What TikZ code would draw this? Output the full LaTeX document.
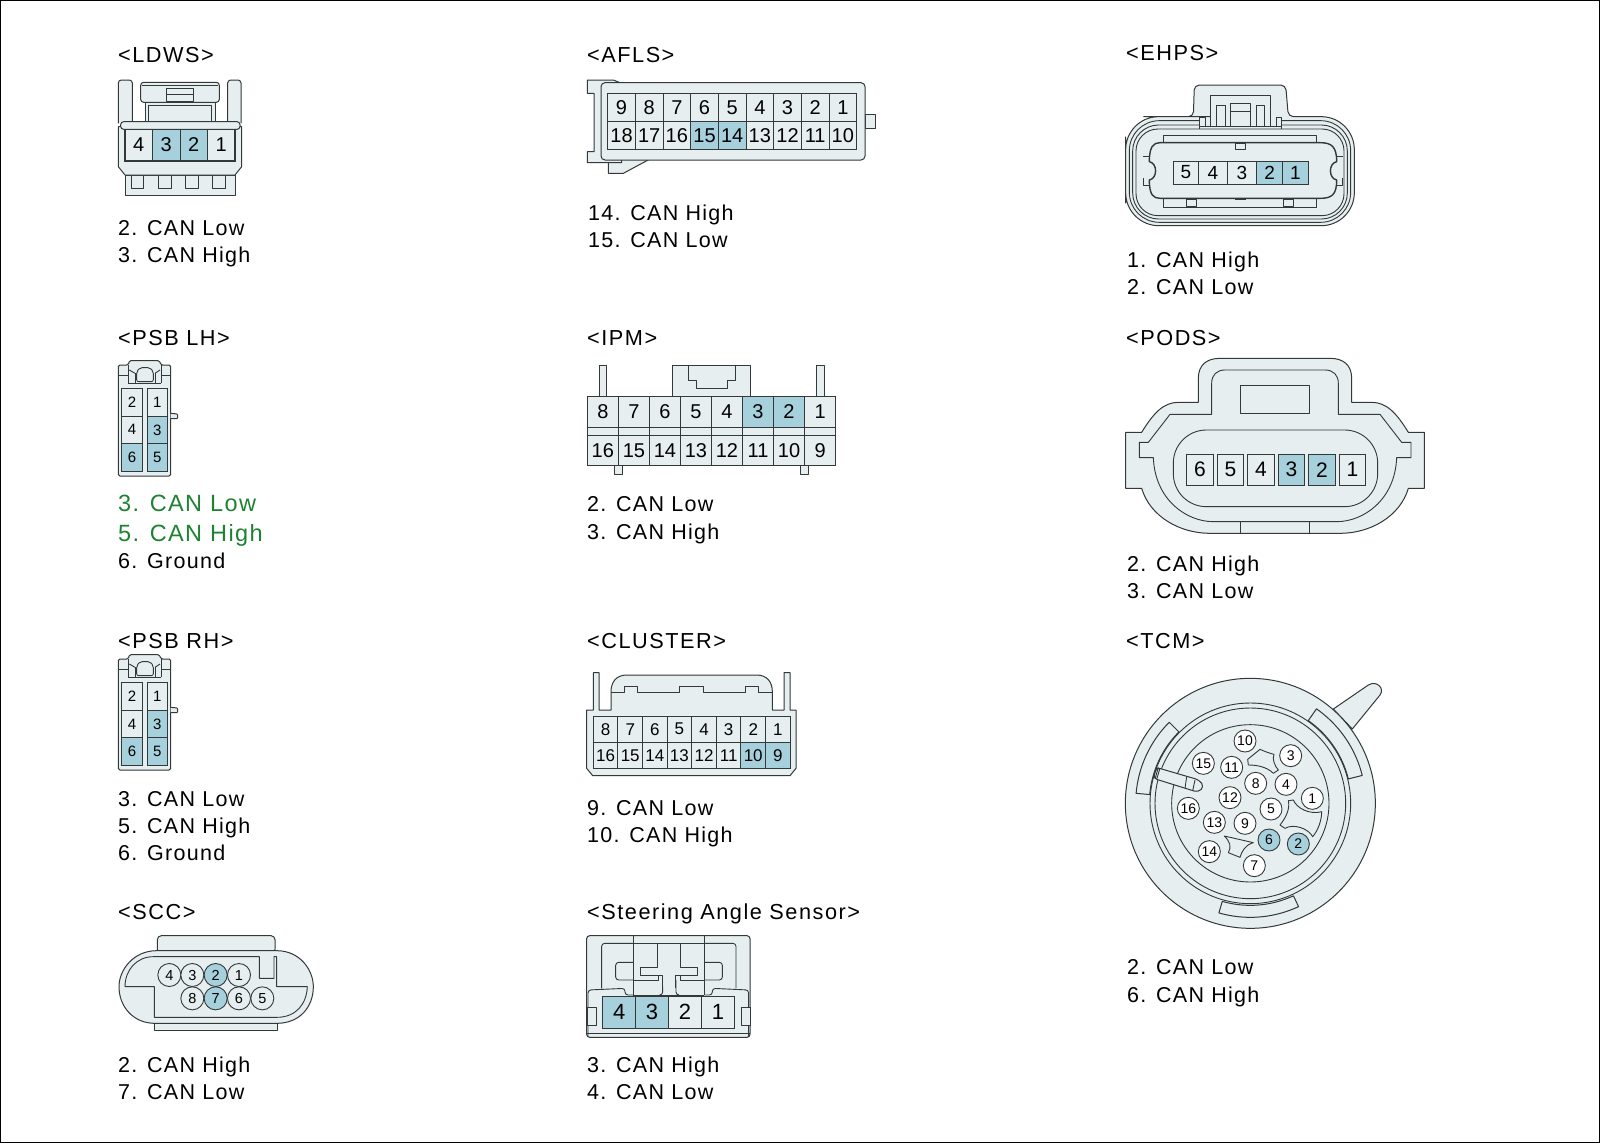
\documentclass[tikz,border=0pt]{standalone}
\usepackage{fontspec}
\setmainfont{Liberation Sans}
\newfontfamily\lblfont[LetterSpace=6]{Liberation Sans}
\newfontfamily\ttlfont[LetterSpace=7]{Liberation Sans}
\usetikzlibrary{positioning}
\definecolor{bodycol}{HTML}{E6EEEF}
\definecolor{hlcol}{HTML}{A6D0DC}
\definecolor{linecol}{HTML}{333839}
\definecolor{greencol}{HTML}{1E8232}
\tikzset{
  conn/.style={draw=linecol, fill=bodycol, line width=1pt, line join=round},
  wire/.style={draw=linecol, line width=.9pt, line join=round},
  pl/.style={fill=bodycol},
  hl/.style={fill=hlcol},
  pincell/.style={draw=linecol, line width=.9pt, inner sep=0pt, outer sep=0pt},
  pinround/.style={circle, draw=linecol, line width=.9pt, inner sep=0pt, outer sep=0pt},
  title/.style={anchor=base west, inner sep=0pt, font=\fontsize{21.7}{24}\ttlfont},
  lbl/.style={anchor=base west, inner sep=0pt, yshift=-.7pt, font=\fontsize{21.5}{24}\lblfont},
  lblgreen/.style={anchor=base west, inner sep=0pt, yshift=-.7pt, text=greencol, font=\fontsize{23.5}{26}\lblfont}
}
% name, left, top, pitch, width, height, font size, cells
\newcommand{\cellrow}[8]{
  \foreach \lab/\look [count=\k from 0] in {#8}{
    \node (#1\lab) [pincell, \look, minimum width=#5/3*1pt, minimum height=#6/3*1pt,
      font=\fontsize{#7}{#7}\selectfont] at ({#2+\k*#4+#5/2},{#3+#6/2}) {\lab};
  }
}
\newcommand{\slot}[4]{
  \draw[conn] plot[domain=#3:#4, samples=24] ({391+#2*cos(\x)},{430-#2*sin(\x)})
    -- plot[domain=#4:#3, samples=24] ({391+#1*cos(\x)},{430-#1*sin(\x)}) -- cycle;
}
\newcommand{\psbconn}[2]{
  \begin{scope}[shift={(100,#2)}, scale=1/3]
    \draw[conn, rounded corners=1.5pt] (55,468) -- (55,135) -- (85,135) -- (88,122) -- (178,122) -- (183,135) -- (212,135) -- (212,468) -- cycle;
    \draw[conn, rounded corners=1pt] (212,280) -- (233,282) -- (233,296) -- (212,296);
    \draw[wire] (55,165) -- (85,165) (183,165) -- (212,165) (85,190) -- (183,190);
    \draw[wire] (85,135) -- (85,190) (183,135) -- (183,190) (105,160) -- (105,190) (165,160) -- (165,190);
    \draw[wire] (105,160) -- (88,150) (165,160) -- (180,150);
    \draw[wire, rounded corners=2pt] (110,185) -- (110,155) -- (120,143) -- (150,143) -- (160,155) -- (160,185) -- cycle;
    \draw[wire] (127,205) -- (127,455) (141,205) -- (141,455);
    \cellrow{#1l}{65}{205}{0}{62}{83}{15}{2/pl}
    \cellrow{#1l}{65}{288}{0}{62}{83}{15}{4/pl}
    \cellrow{#1l}{65}{371}{0}{62}{84}{15}{6/hl}
    \cellrow{#1r}{141}{205}{0}{62}{83}{15}{1/pl}
    \cellrow{#1r}{141}{288}{0}{62}{83}{15}{3/hl}
    \cellrow{#1r}{141}{371}{0}{62}{84}{15}{5/hl}
  \end{scope}
}
\begin{document}
\begin{tikzpicture}[x=1pt, y=-1pt]
\useasboundingbox (0,0) rectangle (1600,1143);
\draw[black, line width=1pt] (0.5,0.5) rectangle (1599.5,1142.5);

\node (ldwsT) [title] at (118,62) {<LDWS>};
\node (ldwsA) [lbl] at (118,234.5) {2. CAN Low};
\node (ldwsB) [lbl] at (118,262) {3. CAN High};
\begin{scope}[shift={(90,30)}, scale=1/3]
  \draw[conn, rounded corners=3pt] (85,280) -- (85,150) -- (127,150) -- (127,280);
  \draw[conn, rounded corners=3pt] (413,280) -- (413,150) -- (453,150) -- (453,280);
  \draw[conn] (165,217) rectangle (375,280);
  \draw[conn] (175,227) rectangle (365,278);
  \draw[conn, rounded corners=3pt] (152,217) -- (152,157) -- (388,157) -- (388,217) -- cycle;
  \draw[wire] (155,167) -- (385,167);
  \draw[wire] (230,175) rectangle (310,215) (230,193) -- (310,193);
  \draw[conn] (105,435) rectangle (435,495);
  \draw[wire] (125,435) |- (160,475) -- (160,435) (205,435) |- (243,475) -- (243,435);
  \draw[wire] (287,435) |- (325,475) -- (325,435) (368,435) |- (406,475) -- (406,435);
  \draw[conn] (85,290) -- (85,410) -- (105,435) -- (435,435) -- (455,410) -- (455,290) -- cycle;
  \draw[conn, rounded corners=3pt] (92,275) rectangle (450,298);
  \cellrow{ldws}{105}{298}{82.5}{82.5}{92}{20}{4/pl,3/hl,2/hl,1/pl}
  \draw[linecol, line width=1.6pt] (105,298) -- (105,393) -- (435,393) -- (435,298);
\end{scope}

\node (aflsT) [title] at (587,62) {<AFLS>};
\node (aflsA) [lbl] at (588,219.5) {14. CAN High};
\node (aflsB) [lbl] at (588,246.5) {15. CAN Low};
\begin{scope}[shift={(570,30)}, scale=1/3]
  \draw[conn] (115,385) -- (115,430) -- (160,430) -- (238,388) -- cycle;
  \draw[conn] (52,398) -- (52,365) -- (72,365) -- (72,190) -- (52,190) -- (52,150) -- (130,150) -- (155,160) -- (155,398) -- cycle;
  \draw[conn] (885,253) -- (917,253) -- (917,295) -- (885,295) -- cycle;
  \draw[conn, rounded corners=4pt] (93,390) -- (93,158) -- (885,158) -- (885,390) -- cycle;
  \cellrow{afls}{113}{190}{83}{83}{85}{20}{9/pl,8/pl,7/pl,6/pl,5/pl,4/pl,3/pl,2/pl,1/pl}
  \cellrow{afls}{113}{275}{83}{83}{83}{20}{18/pl,17/pl,16/pl,15/hl,14/hl,13/pl,12/pl,11/pl,10/pl}
\end{scope}

\node (ehpsT) [title] at (1126,60) {<EHPS>};
\node (ehpsA) [lbl] at (1127,266.5) {1. CAN High};
\node (ehpsB) [lbl] at (1127,294) {2. CAN Low};
\begin{scope}[shift={(1110,30)}, scale=1/3]
  \draw[conn] (47,420) [rounded corners=33pt] -- (47,260) -- (200,260) [rounded corners=5pt] -- (250,260) -- (253,165) -- (527,165) -- (535,260) -- (580,260) [rounded corners=33pt] -- (733,260) -- (733,587) -- (47,587) -- cycle;
  \draw[wire, rounded corners=30pt] (268,272) -| (58,577) -| (722,272) -- (515,272);
  \draw[wire, rounded corners=26pt] (268,285) -| (68,567) -| (712,285) -- (515,285);
  \draw[wire, rounded corners=22pt] (78,297) rectangle (702,557);
  \draw[wire] (268,297) -- (268,262) -- (285,262) -- (285,290) (500,290) -- (500,262) -- (515,262) -- (515,297);
  \draw[wire] (300,290) -- (300,197) -- (480,197) -- (480,290) (268,290) -- (515,290);
  \draw[wire] (320,290) -- (320,225) -- (345,225) -- (345,290) (440,290) -- (440,225) -- (462,225) -- (462,290);
  \draw[wire] (362,290) -- (362,220) -- (420,220) -- (420,290) (362,245) -- (420,245);
  \draw[conn] (160,315) rectangle (620,533);
  \draw[conn, line width=1.4pt] (150,338) -- (630,338) .. controls (665,338) and (680,350) .. (680,395) .. controls (655,400) and (655,445) .. (680,450) .. controls (680,495) and (665,505) .. (630,505) -- (150,505) .. controls (130,505) and (118,495) .. (118,450) .. controls (143,445) and (143,400) .. (118,395) .. controls (118,350) and (130,338) .. (150,338) -- cycle;
  \draw[wire] (100,380) -- (118,380) (100,445) -- (100,465) -- (118,465) (680,380) -- (698,380) (698,445) -- (698,465) -- (680,465);
  \draw[wire] (375,340) rectangle (405,357);
  \draw[wire] (230,507) rectangle (260,530) (520,507) rectangle (550,530);
  \draw[linecol, line width=1.6pt] (375,507) -- (408,507);
  \foreach \lab/\xa/\xb/\look in {5/190/265/pl, 4/265/352/pl, 3/352/440/pl, 2/440/518/hl, 1/518/595/hl}{
    \node (ehps\lab) [pincell, \look, minimum width=(\xb-\xa)/3*1pt, minimum height=23pt,
      font=\fontsize{19}{19}\selectfont] at ({(\xa+\xb)/2},427.5) {\lab};
  }
\end{scope}

\node (psblT) [title] at (118,345) {<PSB LH>};
\psbconn{psbl}{320}
\node (psblA) [lblgreen] at (118,510.5) {3. CAN Low};
\node (psblB) [lblgreen] at (118,540.5) {5. CAN High};
\node (psblC) [lbl] at (118,567.5) {6. Ground};

\node (ipmT) [title] at (587,345) {<IPM>};
\node (ipmA) [lbl] at (587,510.5) {2. CAN Low};
\node (ipmB) [lbl] at (587,538.5) {3. CAN High};
\begin{scope}[shift={(570,320)}, scale=1/3]
  \draw[conn] (87,228) rectangle (110,135);
  \draw[conn] (740,228) rectangle (763,135);
  \draw[conn] (308,228) rectangle (541,135);
  \draw[wire] (355,135) -- (355,182) -- (378,182) -- (378,205) -- (473,205) -- (473,182) -- (497,182) -- (497,135);
  \draw[conn] (133,437) rectangle (157,462);
  \draw[conn] (692,437) rectangle (716,462);
  \draw[conn] (52,322) rectangle (797,345);
  \foreach \xa in {145,238,...,703}{
    \draw[wire] (\xa,322) -- (\xa,345);
  }
  \cellrow{ipm}{52}{228}{93.1}{93.1}{94}{20}{8/pl,7/pl,6/pl,5/pl,4/pl,3/hl,2/hl,1/pl}
  \cellrow{ipm}{52}{345}{93.1}{93.1}{92}{20}{16/pl,15/pl,14/pl,13/pl,12/pl,11/pl,10/pl,9/pl}
\end{scope}

\node (podsT) [title] at (1126,345) {<PODS>};
\node (podsA) [lbl] at (1127,570.5) {2. CAN High};
\node (podsB) [lbl] at (1127,597.5) {3. CAN Low};
\begin{scope}[shift={(1110,320)}, scale=1/3]
  \draw[conn] (265,247) -- (265,175) .. controls (265,135) and (290,115) .. (330,115) -- (660,115) .. controls (700,115) and (725,135) .. (725,175) -- (725,247) -- (785,247) .. controls (830,247) and (860,280) .. (895,337) -- (943,337) -- (943,505) -- (895,505) .. controls (870,590) and (780,640) .. (690,640) -- (300,640) .. controls (210,640) and (120,590) .. (95,505) -- (47,505) -- (47,337) -- (95,337) .. controls (130,280) and (160,247) .. (205,247) -- cycle;
  \draw[wire] (305,283) -- (305,190) .. controls (305,165) and (320,150) .. (345,150) -- (645,150) .. controls (670,150) and (685,165) .. (685,190) -- (685,283) -- (810,283) -- (875,367) -- (903,367) -- (903,413) -- (860,413) .. controls (855,540) and (760,605) .. (680,605) -- (310,605) .. controls (230,605) and (135,540) .. (130,413) -- (88,413) -- (88,367) -- (115,367) -- (180,283) -- cycle;
  \draw[wire, rounded corners=33pt] (190,330) rectangle (803,560);
  \draw[wire] (392,197) rectangle (597,280);
  \draw[wire] (392,605) -- (392,640) (597,605) -- (597,640);
  \cellrow{pods}{230}{403}{91.5}{80}{92}{21}{6/pl,5/pl,4/pl,3/hl,2/hl,1/pl}
\end{scope}

\node (psbrT) [title] at (118,648) {<PSB RH>};
\psbconn{psbr}{614}
\node (psbrA) [lbl] at (118,805.5) {3. CAN Low};
\node (psbrB) [lbl] at (118,832.5) {5. CAN High};
\node (psbrC) [lbl] at (118,859.5) {6. Ground};

\node (clusT) [title] at (587,648) {<CLUSTER>};
\node (clusA) [lbl] at (587,814.5) {9. CAN Low};
\node (clusB) [lbl] at (587,842) {10. CAN High};
\begin{scope}[shift={(580,660)}, scale=1/3]
  \draw[conn] (20,150) -- (40,150) -- (40,38) -- (57,38) -- (57,150) -- (93,150) -- (93,95) .. controls (93,65) and (110,45) .. (140,45) -- (530,45) .. controls (560,45) and (577,65) .. (577,95) -- (577,150) -- (612,150) -- (612,38) -- (630,38) -- (630,150) -- (648,150) -- (648,325) -- (630,347) -- (38,347) -- (20,325) -- cycle;
  \draw[wire] (93,97) -- (133,97) -- (133,80) -- (172,80) -- (172,97) -- (298,97) -- (298,80) -- (370,80) -- (370,97) -- (497,97) -- (497,80) -- (535,80) -- (535,97) -- (577,97);
  \cellrow{clus}{40}{168}{73.8}{73.8}{79}{17}{8/pl,7/pl,6/pl,5/pl,4/pl,3/pl,2/pl,1/pl}
  \cellrow{clus}{40}{247}{73.8}{73.8}{78}{17}{16/pl,15/pl,14/pl,13/pl,12/pl,11/pl,10/hl,9/hl}
\end{scope}

\node (tcmT) [title] at (1126,648) {<TCM>};
\node (tcmA) [lbl] at (1127,973.5) {2. CAN Low};
\node (tcmB) [lbl] at (1127,1001.5) {6. CAN High};
\begin{scope}[shift={(1120,660)}, scale=1/3]
  \draw[conn] (640,147) -- (745,75) .. controls (770,60) and (795,85) .. (780,105) -- (697,207) -- cycle;
  \draw[conn] (391,430) circle[radius=375];
  \draw[wire] (391,430) circle[radius=301];
  \draw[wire] (391,430) circle[radius=286];
  \draw[wire] (391,430) circle[radius=236];
  \slot{303}{346}{14}{55}
  \slot{303}{344}{135}{175}
  \slot{306}{342}{254}{295}
  \draw[conn, rounded corners=4pt] (108,322) -- (238,360) -- (252,380) -- (235,397) -- (100,355) -- cycle;
  \draw[wire] (200,350) -- (195,385) (225,360) -- (218,392);
  \draw[wire] (115,322) -- (105,357) (110,322) -- (100,355) (120,324) -- (110,358);
  \draw[wire] (383,298) -- (420,268) .. controls (435,275) and (450,280) .. (462,283) .. controls (455,295) and (465,320) .. (475,330) -- (460,340) .. controls (440,320) and (410,315) .. (385,315) -- cycle;
  \draw[wire] (505,422) -- (520,420) .. controls (530,445) and (570,465) .. (605,455) .. controls (605,480) and (595,510) .. (578,530) .. controls (565,505) and (520,490) .. (495,505) -- (480,495) .. controls (500,470) and (510,445) .. (505,422) -- cycle;
  \draw[wire] (313,528) -- (400,548) .. controls (375,555) and (365,575) .. (360,592) -- (325,578) .. controls (335,560) and (330,545) .. (313,528) -- cycle;
  \foreach \lab/\px/\py/\look in {10/375/243/white, 3/512/287/white, 15/250/310/white, 11/335/322/white, 8/407/370/white, 4/498/373/white, 1/577/415/white, 12/330/413/white, 16/205/445/white, 5/453/447/white, 13/283/487/white, 9/375/490/white, 6/447/540/hlcol, 2/535/552/hlcol, 14/268/575/white, 7/403/617/white}{
    \node (tcm\lab) [pinround, fill=\look, minimum size=22pt, font=\fontsize{14}{14}\selectfont] at (\px,\py) {\lab};
  }
\end{scope}

\node (sccT) [title] at (118,919) {<SCC>};
\node (sccA) [lbl] at (118,1071.5) {2. CAN High};
\node (sccB) [lbl] at (118,1098.5) {7. CAN Low};
\begin{scope}[shift={(100,920)}, scale=1/3]
  \draw[conn] (163,330) rectangle (533,300);
  \draw[conn, rounded corners=4pt] (172,100) -- (172,47) -- (525,47) -- (525,100) -- cycle;
  \draw[conn] (170,92) -- (530,92) .. controls (600,92) and (640,150) .. (640,200) .. controls (640,260) and (600,310) .. (530,310) -- (165,310) .. controls (100,310) and (57,260) .. (57,200) .. controls (57,150) and (100,92) .. (170,92) -- cycle;
  \draw[wire] (163,292) -- (163,200) -- (75,200) .. controls (75,150) and (110,110) .. (160,110) -- (478,110) -- (478,175) -- (522,175) -- (522,110) -- (530,110) -- (530,200) -- (622,200) .. controls (620,250) and (590,292) .. (530,292) -- cycle;
  \foreach \lab/\px/\py/\look in {4/208/165/pl, 3/277/165/pl, 2/347/165/hl, 1/417/165/pl, 8/277/235/pl, 7/347/235/hl, 6/417/235/pl, 5/487/235/pl}{
    \node (scc\lab) [pinround, \look, minimum size=23pt, font=\fontsize{14.5}{14.5}\selectfont] at (\px,\py) {\lab};
  }
\end{scope}

\node (steerT) [title] at (587,919) {<Steering Angle Sensor>};
\node (steerA) [lbl] at (587,1071.5) {3. CAN High};
\node (steerB) [lbl] at (587,1098.5) {4. CAN Low};
\begin{scope}[shift={(580,920)}, scale=1/3]
  \draw[conn, rounded corners=3pt] (20,352) -- (20,47) -- (510,47) -- (510,352) -- cycle;
  \draw[wire] (160,47) -- (160,225) (373,47) -- (373,225);
  \draw[wire, rounded corners=3pt] (65,205) -- (65,70) -- (160,70) (373,70) -- (468,70) -- (468,205);
  \draw[wire] (160,70) -- (373,70);
  \draw[wire, rounded corners=3pt] (160,127) -- (107,127) -- (107,180) -- (160,180) (373,127) -- (427,127) -- (427,180) -- (373,180);
  \draw[wire] (232,70) -- (232,143) -- (182,143) -- (182,165) -- (248,165) -- (248,205) (302,70) -- (302,143) -- (352,143) -- (352,165) -- (285,165) -- (285,205);
  \draw[wire] (160,180) -- (235,180) -- (235,165) (373,180) -- (300,180) -- (300,165);
  \draw[wire, rounded corners=3pt] (248,200) -- (248,225) -- (240,225) (288,180) -- (288,225) -- (296,225);
  \draw[wire, rounded corners=3pt] (24,350) -- (24,210) -- (135,205) -- (135,225) -- (160,225) (506,350) -- (506,210) -- (397,205) -- (397,225) -- (373,225);
  \draw[wire] (160,225) -- (373,225);
  \draw[conn] (22,262) rectangle (48,315);
  \draw[conn] (485,262) rectangle (510,315);
  \draw[wire] (20,340) -- (510,340);
  \cellrow{steer}{68}{228}{98.75}{98.75}{97}{22}{4/hl,3/hl,2/pl,1/pl}
\end{scope}
\end{tikzpicture}
\end{document}
